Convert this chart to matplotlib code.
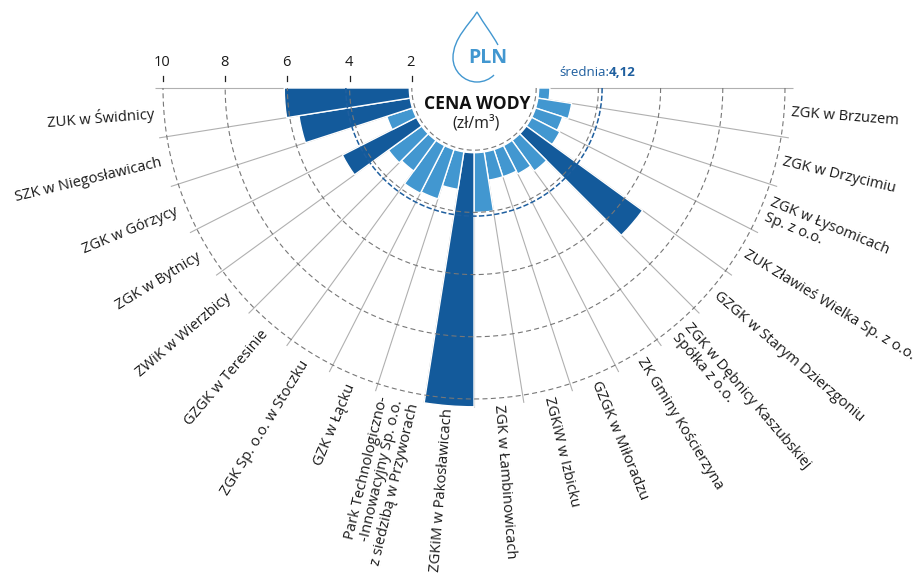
import numpy as np
import matplotlib
matplotlib.use('Agg')
from matplotlib import pyplot as plt
from matplotlib.path import Path
from matplotlib.patches import PathPatch

plt.rcParams['font.family'] = ['Open Sans', 'DejaVu Sans']

# data, from the right end of the half circle to the left
labels = ['ZGK w Brzuzem', 'ZGK w Drzycimiu', 'ZGK w Łysomicach\nSp. z o.o.',
          'ZUK Zławieś Wielka Sp. z o.o.', 'GZGK w Starym Dzierzgoniu',
          'ZGK w Dębnicy Kaszubskiej\nSpółka z o.o.', 'ZK Gminy Kościerzyna',
          'GZGK w Miłoradzu', 'ZGKiW w Izbicku', 'ZGK w Łambinowicach',
          'ZGKiM w Pakosławicach',
          'Park Technologiczno-\n-Innowacyjny Sp. o.o.\nz siedzibą w Przyworach',
          'GZK w Łącku', 'ZGK Sp. o.o. w Stoczku', 'GZGK w Teresinie',
          'ZWiK w Wierzbicy', 'ZGK w Bytnicy', 'ZGK w Górzycy',
          'SZK w Niegosławicach', 'ZUK w Świdnicy']
values = [2.44, 3.18, 3.0, 3.1, 6.7, 3.3, 3.1, 3.0, 3.0, 4.0,
          10.25, 3.3, 3.75, 3.8, 3.3, 3.4, 4.75, 2.95, 5.7, 6.1]
mean_value = 4.12
ring_values = [2, 4, 6, 8, 10]
tick_labels = ['2', '4', '6', '8', '10']

DARK = '#135a9b'
LIGHT = '#4297d0'
W, H = 921, 578
CX, CY = 474, 88
PX_PER_UNIT = 31.1
RMAX = 12

fig = plt.figure(figsize=(W / 100, H / 100), dpi=100, facecolor='white')
half = RMAX * PX_PER_UNIT
ax = fig.add_axes([(CX - half) / W, (H - CY - half) / H, 2 * half / W, 2 * half / H],
                  projection='polar')
ax.set_theta_zero_location('E')
ax.set_theta_direction(-1)
ax.set_ylim(0, RMAX)
ax.axis('off')

n = len(values)
step = np.pi / n
mids = (np.arange(n) + 0.5) * step
colors = [DARK if v > mean_value else LIGHT for v in values]
base = 2.08

# spokes
for t in np.arange(n + 1) * step:
    ax.plot([t, t], [base, 10.25], color='#b0b0b0', lw=0.8, zorder=1, solid_capstyle='butt')

ax.bar(mids, np.array(values) - base, width=step, bottom=base, color=colors,
       edgecolor='white', linewidth=1, zorder=2)

# rings
arc = np.linspace(0, np.pi, 300)
for rv in ring_values:
    ax.plot(arc, np.full_like(arc, rv), color='#777777', lw=0.8, ls=(0, (4.5, 3)), zorder=3)
ax.plot(arc, np.full_like(arc, mean_value), color='#1f5f9f', lw=1.1, ls=(0, (3.5, 1.5)), zorder=3)

# labels around the outside
for t, lab in zip(mids, labels):
    deg = np.degrees(t)
    if deg < 90:
        ax.text(t, 10.22, lab, rotation=-deg, rotation_mode='anchor', ha='left', va='center',
                ma='left', fontsize=10.6, color='#1a1a1a', linespacing=1.05, clip_on=False)
    else:
        ax.text(t, 10.33, lab, rotation=180 - deg, rotation_mode='anchor', ha='right', va='center',
                ma='right', fontsize=10.6, color='#1a1a1a', linespacing=1.05, clip_on=False)

# overlay in pixel coordinates for the header
top = fig.add_axes([0, 0, 1, 1], facecolor='none')
top.set_xlim(0, W)
top.set_ylim(H, 0)
top.axis('off')

for rv, tl in zip(ring_values, tick_labels):
    x = CX - rv * PX_PER_UNIT
    top.plot([x, x], [76, 81], color='#222222', lw=0.9)
    top.text(x - 1, 63, tl, ha='center', va='center', fontsize=10.5, color='#1a1a1a')

top.text(477, 104, 'CENA WODY', ha='center', va='center', fontsize=12.6,
         fontweight='bold', color='#111111')
top.text(476, 123, '(zł/m³)', ha='center', va='center', fontsize=11.5, color='#222222')

top.text(609, 72, 'średnia:', ha='right', va='center', fontsize=9.6, color='#1f5f9f')
top.text(609, 72, '4,12', ha='left', va='center', fontsize=9.6, fontweight='bold', color='#1f5f9f')

# water drop
drop = Path([(498, 45), (492, 34), (484, 24), (477, 12),
             (470, 24), (453, 38), (453, 58),
             (453, 71), (464, 82), (477, 82),
             (484, 82), (490, 79), (494, 75)],
            [Path.MOVETO, Path.CURVE4, Path.CURVE4, Path.CURVE4,
             Path.CURVE4, Path.CURVE4, Path.CURVE4,
             Path.CURVE4, Path.CURVE4, Path.CURVE4,
             Path.CURVE4, Path.CURVE4, Path.CURVE4])
top.add_patch(PathPatch(drop, facecolor='none', edgecolor=LIGHT, lw=1.0))
top.text(488, 58, 'PLN', ha='center', va='center', fontsize=14, fontweight='bold', color=LIGHT)

fig.savefig('out.png', dpi=100)
